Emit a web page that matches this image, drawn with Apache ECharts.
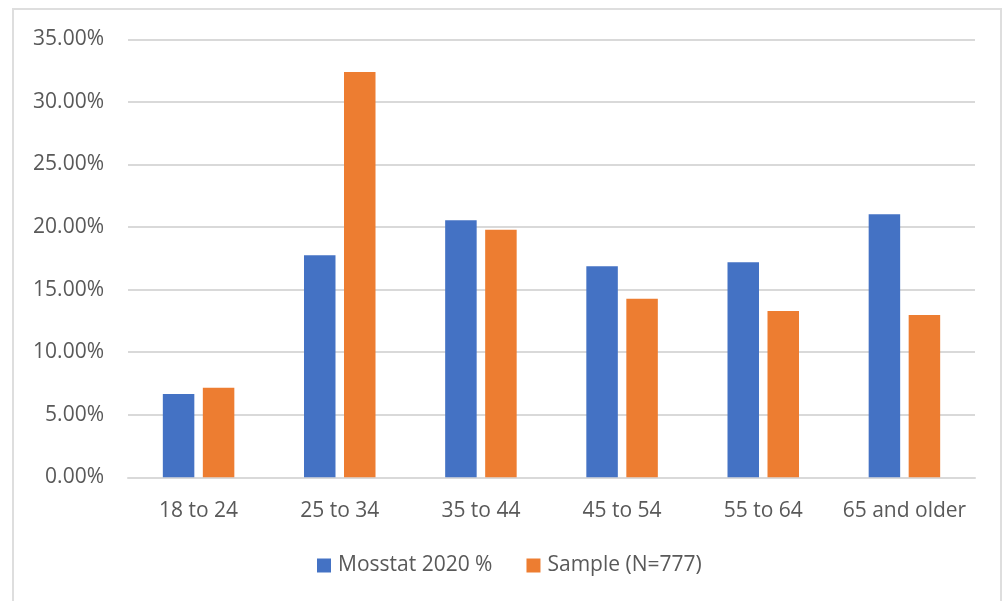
<!DOCTYPE html>
<html>
<head>
<meta charset="utf-8">
<script src="https://cdn.jsdelivr.net/npm/echarts@6/dist/echarts.min.js"></script>
<style>
  html, body { margin: 0; padding: 0; background: #fff; }
  #frame {
    position: absolute; left: 12px; top: 8px; width: 990px; height: 620px;
    border: 2px solid #dedede; box-sizing: border-box;
  }
  #chart { position: absolute; left: 0; top: 0; width: 1006px; height: 601px; }
</style>
</head>
<body>
<div id="frame"></div>
<div id="chart"></div>
<script>
const ageGroups = ['18 to 24', '25 to 34', '35 to 44', '45 to 54', '55 to 64', '65 and older']
const mosstat = [6.66, 17.74, 20.54, 16.86, 17.18, 21.02]
const sample = [7.16, 32.39, 19.79, 14.27, 13.29, 12.97]

const textColor = '#595959'
const gridColor = '#d9d9d9'
const fontFamily = '"Open Sans", "Noto Sans", sans-serif'

const chart = echarts.init(document.getElementById('chart'))

chart.setOption({
  animation: false,
  textStyle: { fontFamily: fontFamily },
  grid: {
    left: 128,
    right: 31,
    top: 39.3,
    bottom: 123.7,
  },
  legend: {
    left: 312,
    top: 550,
    itemWidth: 14,
    itemHeight: 14,
    itemGap: 34,
    icon: 'rect',
    textStyle: {
      color: textColor,
      fontSize: 21,
      fontFamily: fontFamily,
      padding: [0, 0, 0, 2]
    },
    data: ['Mosstat 2020 %', 'Sample (N=777)']
  },
  xAxis: {
    type: 'category',
    data: ageGroups,
    axisTick: { show: false },
    axisLine: { lineStyle: { color: gridColor, width: 2 } },
    axisLabel: {
      color: textColor,
      fontSize: 21,
      margin: 23,
      interval: 0
    }
  },
  yAxis: {
    type: 'value',
    min: 0,
    max: 35,
    interval: 5,
    axisLine: { show: false },
    axisTick: { show: false },
    axisLabel: {
      color: textColor,
      fontSize: 21,
      margin: 24,
      formatter: (v) => v.toFixed(2) + '%'
    },
    splitLine: { lineStyle: { color: gridColor, width: 2 } }
  },
  series: [
    {
      name: 'Mosstat 2020 %',
      type: 'bar',
      barWidth: 31.5,
      barGap: '27%',
      itemStyle: { color: '#4472C4' },
      data: mosstat
    },
    {
      name: 'Sample (N=777)',
      type: 'bar',
      barWidth: 31.5,
      barGap: '27%',
      itemStyle: { color: '#ED7D31' },
      data: sample
    }
  ]
})
</script>
</body>
</html>
